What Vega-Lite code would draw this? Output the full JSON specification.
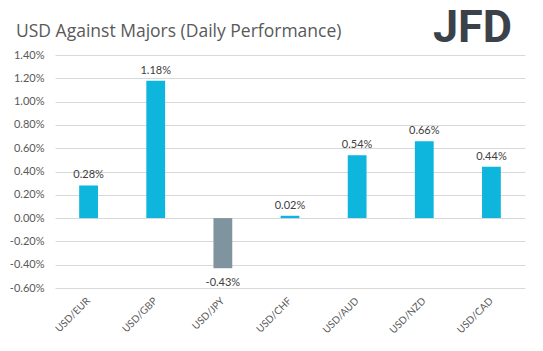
{
  "$schema": "https://vega.github.io/schema/vega-lite/v6.json",
  "autosize": "none",
  "width": 470,
  "height": 233,
  "padding": {"left": 55, "top": 55, "right": 18, "bottom": 63},
  "background": "white",
  "config": {"view": {"stroke": null}, "font": "Lato"},
  "title": {
    "text": "USD Against Majors (Daily Performance)",
    "anchor": "start",
    "frame": "group",
    "dx": -39,
    "offset": -34,
    "font": "Open Sans",
    "fontSize": 17.5,
    "fontWeight": "normal",
    "color": "#595959"
  },
  "data": {
    "values": [
      {"pair": "USD/EUR", "change": 0.0028},
      {"pair": "USD/GBP", "change": 0.0118},
      {"pair": "USD/JPY", "change": -0.0043},
      {"pair": "USD/CHF", "change": 0.0002},
      {"pair": "USD/AUD", "change": 0.0054},
      {"pair": "USD/NZD", "change": 0.0066},
      {"pair": "USD/CAD", "change": 0.0044}
    ]
  },
  "encoding": {
    "x": {
      "field": "pair",
      "type": "nominal",
      "sort": null,
      "scale": {"paddingInner": 0.72, "paddingOuter": 0.36},
      "axis": {
        "title": null,
        "domain": false,
        "ticks": false,
        "labelAngle": -45,
        "labelAlign": "right",
        "labelBaseline": "middle",
        "labelPadding": 11,
        "labelFontSize": 10,
        "labelColor": "#595959"
      }
    },
    "y": {
      "field": "change",
      "type": "quantitative",
      "scale": {"domain": [-0.006, 0.014], "nice": false},
      "axis": {
        "title": null,
        "values": [-0.006, -0.004, -0.002, 0, 0.002, 0.004, 0.006, 0.008, 0.010, 0.012, 0.014],
        "format": ".2%",
        "labelExpr": "replace(datum.label, '\u2212', '-')",
        "labelOverlap": false,
        "domain": false,
        "ticks": false,
        "labelPadding": 11,
        "labelFontSize": 11,
        "labelColor": "#595959",
        "gridColor": "#d9d9d9",
        "gridWidth": 1
      }
    }
  },
  "layer": [
    {
      "mark": {"type": "bar"},
      "encoding": {
        "color": {
          "condition": {"test": "datum.change < 0", "value": "#7F949F"},
          "value": "#0EB5DD"
        }
      }
    },
    {
      "transform": [{"filter": "datum.change >= 0"}],
      "mark": {"type": "text", "fontSize": 11, "color": "#404040", "baseline": "bottom", "dy": -5},
      "encoding": {
        "text": {"field": "change", "type": "quantitative", "format": ".2%"}
      }
    },
    {
      "transform": [{"filter": "datum.change < 0"}],
      "mark": {"type": "text", "fontSize": 11, "color": "#404040", "baseline": "top", "dy": 9, "text": {"expr": "replace(format(datum.change, '.2%'), '\u2212', '-')"}},
      "encoding": {}
    },
    {
      "data": {"values": [{"logo": "JFD", "pair": "USD/CAD", "change": 0.0163}]},
      "mark": {"type": "text", "font": "Roboto", "fontWeight": "bold", "fontSize": 45, "color": "#3B4148", "baseline": "middle", "align": "center", "dx": -19},
      "encoding": {
        "text": {"field": "logo"}
      }
    }
  ]
}
